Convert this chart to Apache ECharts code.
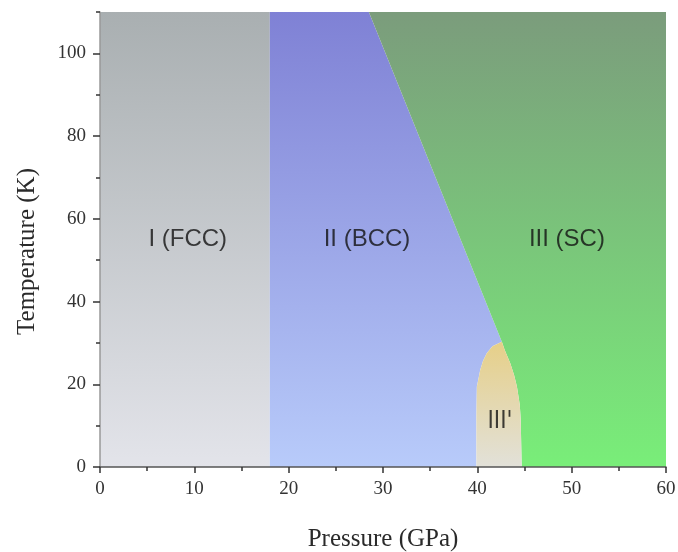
<!DOCTYPE html>
<html>
<head>
<meta charset="utf-8">
<script src="https://cdn.jsdelivr.net/npm/echarts@6/dist/echarts.min.js"></script>
<style>
html,body{margin:0;padding:0;background:#fff;}
#chart{width:678px;height:552px;}
</style>
</head>
<body>
<div id="chart"></div>
<script>
// Axis ranges and ticks
const xMin = 0, xMax = 60;
const yMin = 0, yMax = 110;
const xTickLabels = [0, 10, 20, 30, 40, 50, 60];
const yTickLabels = [0, 20, 40, 60, 80, 100];
const yMinorTicks = [10, 30, 50, 70, 90, 110];

// Phase boundaries [pressure GPa, temperature K]
const fccBccBoundary = [[18, 0], [18, 110]];
const bccScBoundary = [[42.6, 30.3], [28.5, 110]];
const domeLeft = [[39.9, 0], [39.9, 12], [39.95, 19.4], [40.3, 23.4], [40.6, 25.6], [41.0, 27.5], [41.6, 29.2], [42.6, 30.3]];
const domeRight = [[42.6, 30.3], [42.9, 28.3], [43.5, 25.0], [43.9, 22.2], [44.2, 19.4], [44.5, 15.0], [44.6, 11.4], [44.7, 0]];

// Region labels
const regionNames = ['I (FCC)', 'II (BCC)', 'III (SC)'];
const regionLabelPos = [[9.3, 55], [28.3, 55], [49.5, 55]];
const smallRegionNames = ["III'"];
const smallRegionLabelPos = [[42.4, 11.0]];

// Build region polygons from boundaries
const regionFCC = [[xMin, yMin], fccBccBoundary[0], fccBccBoundary[1], [xMin, yMax]];
const regionBCC = [fccBccBoundary[0]].concat(domeLeft, bccScBoundary.slice(1), [fccBccBoundary[1]]);
const regionIIIp = domeLeft.concat(domeRight.slice(1));
const regionSC = [domeRight[domeRight.length - 1], [xMax, yMin], [xMax, yMax], bccScBoundary[1], bccScBoundary[0]]
  .concat(domeRight.slice(1, domeRight.length - 1));

const regions = [
  { pts: regionFCC, top: '#a9afb1', bottom: '#e3e4ea' },
  { pts: regionBCC, top: '#7f81d5', bottom: '#b8cbfa' },
  { pts: regionSC, top: '#7b9c7c', bottom: '#79ee79' },
  { pts: regionIIIp, top: '#e6cf88', bottom: '#e2e1d9' }
];

const chart = echarts.init(document.getElementById('chart'), null, { renderer: 'canvas' });

const serif = 'Liberation Serif';
const sans = 'Liberation Sans';

const option = {
  animation: false,
  backgroundColor: '#fff',
  grid: { left: 100, right: 12, top: 12, bottom: 85, containLabel: false, outerBoundsMode: 'none' },
  xAxis: {
    type: 'value', min: xMin, max: xMax, interval: 10, z: 10,
    name: 'Pressure (GPa)', nameLocation: 'middle', nameGap: 60,
    nameTextStyle: { fontFamily: serif, fontSize: 25, color: '#2a2a2a' },
    axisLine: { show: true, lineStyle: { color: '#555', width: 1.5 } },
    axisTick: { show: true, inside: false, length: 6, lineStyle: { color: '#333', width: 1.5 } },
    minorTick: { show: true, splitNumber: 2, length: 4, lineStyle: { color: '#333', width: 1.5 } },
    axisLabel: { fontFamily: serif, fontSize: 19, color: '#333', margin: 13,
      customValues: xTickLabels },
    splitLine: { show: false }
  },
  yAxis: [{
    type: 'value', min: yMin, max: yMax, interval: 10, z: 10,
    name: 'Temperature (K)', nameLocation: 'middle', nameGap: 60,
    nameTextStyle: { fontFamily: serif, fontSize: 25, color: '#2a2a2a', padding: [0, 24, 0, 0] },
    axisLine: { show: true, lineStyle: { color: '#999', width: 1.5 } },
    axisTick: { show: true, inside: false, length: 7, lineStyle: { color: '#333', width: 1.5 },
      customValues: yTickLabels },
    axisLabel: { fontFamily: serif, fontSize: 19, color: '#333', margin: 14,
      customValues: yTickLabels },
    splitLine: { show: false }
  }, {
    type: 'value', min: yMin, max: yMax, interval: 10, z: 10, position: 'left', offset: 0,
    axisLine: { show: false },
    axisTick: { show: true, inside: false, length: 4, lineStyle: { color: '#333', width: 1.5 },
      customValues: yMinorTicks },
    axisLabel: { show: false },
    splitLine: { show: false }
  }],
  series: [{
    type: 'custom',
    coordinateSystem: 'cartesian2d',
    z: 1,
    silent: true,
    data: regions.map((r, i) => [i]),
    renderItem: function (params, api) {
      const r = regions[params.dataIndex];
      const points = r.pts.map(p => api.coord(p));
      return {
        type: 'polygon',
        shape: { points: points },
        style: {
          fill: {
            type: 'linear', x: 0, y: 0, x2: 0, y2: 1, global: false,
            colorStops: [{ offset: 0, color: r.top }, { offset: 1, color: r.bottom }]
          },
          stroke: null
        }
      };
    }
  }, {
    type: 'scatter',
    symbolSize: 0,
    z: 5,
    silent: true,
    data: regionNames.map((n, i) => ({ value: regionLabelPos[i], name: n })),
    label: {
      show: true, position: 'inside',
      formatter: p => p.name,
      fontFamily: sans, fontSize: 24, color: '#111'
    }
  }, {
    type: 'scatter',
    symbolSize: 0,
    z: 5,
    silent: true,
    data: smallRegionNames.map((n, i) => ({ value: smallRegionLabelPos[i], name: n })),
    label: {
      show: true, position: 'inside',
      formatter: p => p.name,
      fontFamily: "'Liberation Sans Narrow', 'DejaVu Sans Condensed', sans-serif", fontSize: 24, color: '#111'
    }
  }]
};

chart.setOption(option);
</script>
</body>
</html>
